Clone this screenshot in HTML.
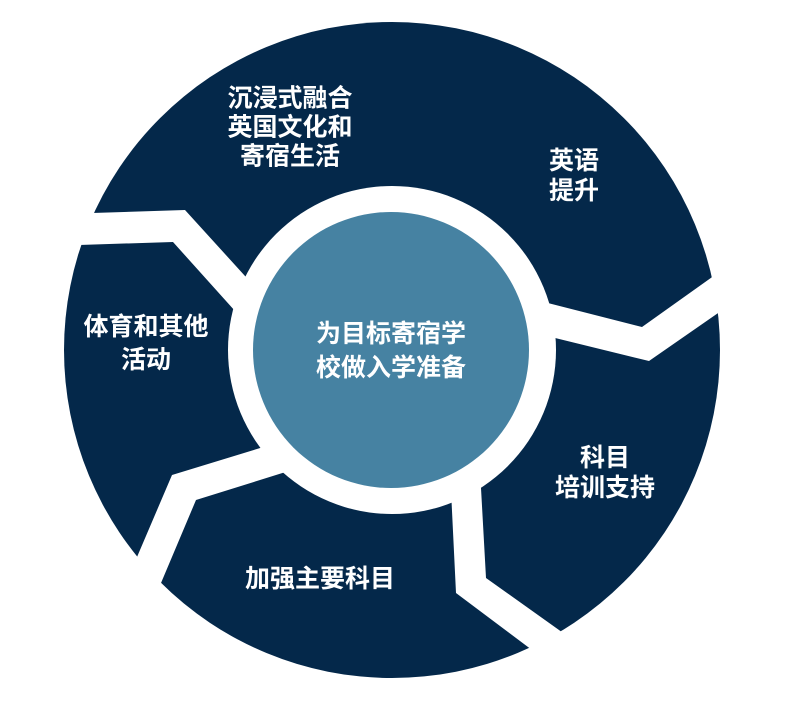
<!DOCTYPE html>
<html><head><meta charset="utf-8"><style>
body{margin:0;background:#fff;width:798px;height:709px;overflow:hidden;position:relative}
svg{position:absolute;left:0;top:0}
.t{position:absolute;color:#fff;font-family:"Liberation Sans","Noto Sans CJK SC",sans-serif;font-weight:bold;font-size:25px;text-align:center;white-space:nowrap;transform:translate(-50%,-50%)}
</style></head><body>
<svg width="798" height="709" viewBox="0 0 798 709">
<circle cx="392" cy="350" r="328" fill="#04284a"/>
<g fill="#fff">
<polygon points="450,470 456,593 528,647 568,677 599,660 559,630 486,578 480,470"/>
<polygon points="270,445 172,475 137,557 120,597 144,623 161,583 196,500 292,470"/>
<polygon points="255,287 185,210 92,213 40,214 40,246 79,245 173,242 244,321"/>
<polygon points="540,301 642,327 715,275 760,243 766,279 721,311 649,361 547,336"/>
<circle cx="392" cy="350" r="164"/>
</g>
<circle cx="391" cy="350" r="138" fill="#4682a2"/>
</svg>
<div class="t" style="left:290px;top:128px;line-height:29px">沉浸式融合<br>英国文化和<br>寄宿生活</div>
<div class="t" style="left:574px;top:176px;line-height:30px">英语<br>提升</div>
<div class="t" style="left:146px;top:344px;line-height:33px">体育和其他<br>活动</div>
<div class="t" style="left:391px;top:351px;line-height:34px">为目标寄宿学<br>校做入学准备</div>
<div class="t" style="left:605px;top:473px;line-height:30px">科目<br>培训支持</div>
<div class="t" style="left:320px;top:577px">加强主要科目</div>
</body></html>
